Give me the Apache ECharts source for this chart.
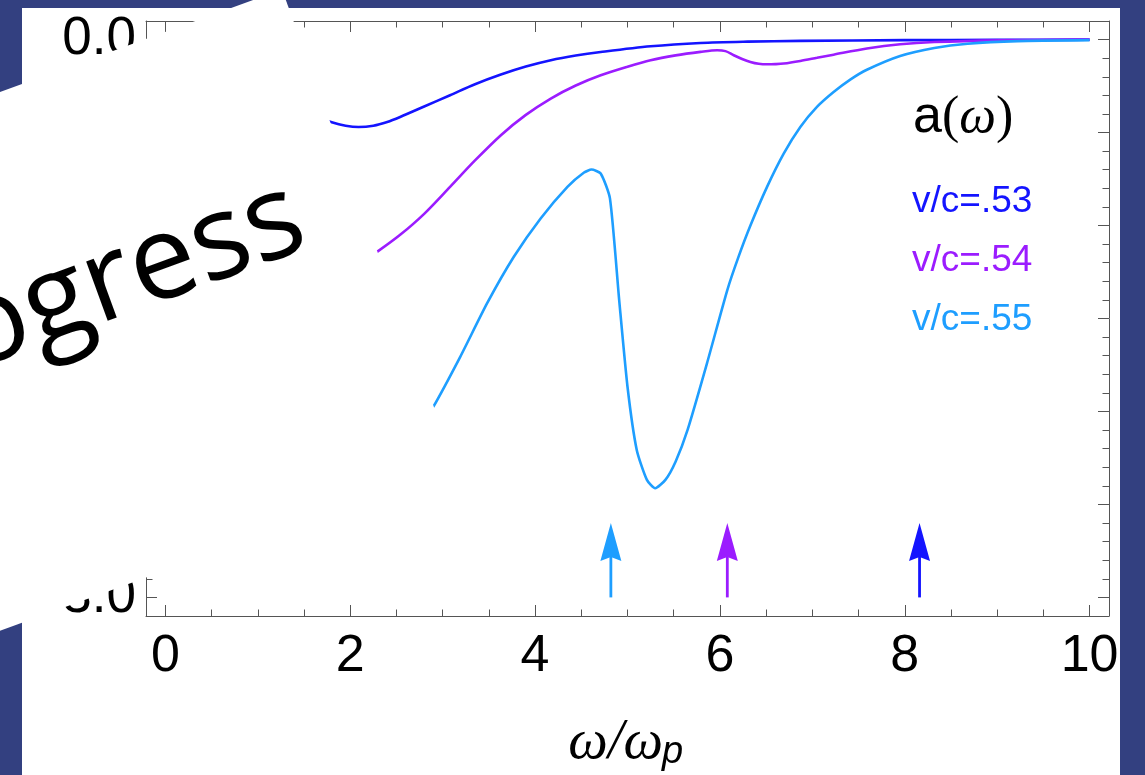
<!DOCTYPE html>
<html>
<head>
<meta charset="utf-8">
<script src="https://cdn.jsdelivr.net/npm/echarts@6/dist/echarts.min.js"></script>
<style>
html,body{margin:0;padding:0;background:#334080;overflow:hidden;}
#panel{position:absolute;left:22px;top:8px;width:1098px;height:767px;background:#fff;}
#c{position:absolute;left:0;top:0;width:1145px;height:775px;}
</style>
</head>
<body>
<div id="panel"></div>
<div id="c"></div>
<script>
// ---- data ----
const blueX = [1.70, 1.80, 1.95, 2.09, 2.25, 2.40, 2.54, 2.80, 3.08, 3.35, 3.63, 3.90, 4.17, 4.44, 4.71, 5.25, 5.79, 6.30, 6.87, 8.00, 9.00, 10.00];
const blueY = [-0.425, -0.445, -0.463, -0.470, -0.463, -0.443, -0.416, -0.360, -0.299, -0.240, -0.188, -0.145, -0.111, -0.086, -0.067, -0.036, -0.018, -0.011, -0.007, -0.003, -0.001, 0.000];

const purpleX = [2.20, 2.29, 2.54, 2.80, 3.08, 3.35, 3.63, 3.90, 4.17, 4.44, 4.71, 5.00, 5.25, 5.52, 5.79, 5.97, 6.06, 6.15, 6.24, 6.33, 6.42, 6.51, 6.60, 6.69, 6.87, 7.05, 7.23, 7.59, 7.95, 8.32, 9.04, 10.00];
const purpleY = [-1.170, -1.142, -1.050, -0.937, -0.792, -0.650, -0.514, -0.405, -0.317, -0.247, -0.192, -0.146, -0.111, -0.085, -0.066, -0.057, -0.062, -0.084, -0.104, -0.120, -0.130, -0.133, -0.132, -0.129, -0.115, -0.098, -0.081, -0.048, -0.025, -0.013, -0.004, 0.000];

const cyanX = [2.85, 2.90, 3.19, 3.48, 3.77, 4.06, 4.35, 4.53, 4.61, 4.71, 4.81, 4.91, 5.00, 5.10, 5.21, 5.30, 5.41, 5.52, 5.65, 5.86, 6.08, 6.20, 6.33, 6.51, 6.69, 6.87, 7.05, 7.23, 7.41, 7.59, 7.95, 8.32, 8.68, 9.22, 10.00];
const cyanY = [-2.000, -1.974, -1.706, -1.419, -1.168, -0.962, -0.792, -0.715, -0.699, -0.720, -0.854, -1.401, -1.867, -2.207, -2.368, -2.413, -2.368, -2.270, -2.099, -1.741, -1.347, -1.170, -1.000, -0.792, -0.613, -0.470, -0.362, -0.282, -0.215, -0.162, -0.088, -0.045, -0.022, -0.008, -0.003];

const seriesNames = ['v/c=.53', 'v/c=.54', 'v/c=.55'];
const seriesColors = ['#1414ff', '#9b1cff', '#1e9eff'];

// arrows: x positions (order: v/c=.55, .54, .53)
const arrowX = [4.82, 6.08, 8.16];
const arrowColorIdx = [2, 1, 0];
const arrowFromY = [-3.0, -3.0, -3.0];
const arrowToY = [-2.6, -2.6, -2.6];

// ticks and labels
const xMajorTicks = [0, 2, 4, 6, 8, 10];
const xMinorTicks = [0, 0.5, 1, 1.5, 2, 2.5, 3, 3.5, 4, 4.5, 5, 5.5, 6, 6.5, 7, 7.5, 8, 8.5, 9, 9.5, 10];
const yMajorTicks = [-3.0, -2.5, -2.0, -1.5, -1.0, -0.5, 0.0];
const yMinorTicks = [-3.0, -2.9, -2.8, -2.7, -2.6, -2.5, -2.4, -2.3, -2.2, -2.1, -2.0, -1.9, -1.8, -1.7, -1.6, -1.5, -1.4, -1.3, -1.2, -1.1, -1.0, -0.9, -0.8, -0.7, -0.6, -0.5, -0.4, -0.3, -0.2, -0.1, 0.0];

const xRange = [-0.21, 10.21];
const yRange = [-3.1, 0.1];

// ---- chart ----
const frameColor = '#555';
function zip(a, b) { return a.map((v, i) => [v, b[i]]); }

function mkX(pos, ticks, len, showLine, showLabel) {
  return {
    type: 'value', min: xRange[0], max: xRange[1], position: pos,
    axisLine: { show: showLine, onZero: false, lineStyle: { color: frameColor, width: 1 } },
    axisTick: { show: true, inside: true, length: len, customValues: ticks, lineStyle: { color: frameColor, width: 1 } },
    axisLabel: showLabel ? { show: true, customValues: xMajorTicks, fontSize: 52, color: '#000', fontFamily: 'Liberation Sans', margin: 15 } : { show: false },
    splitLine: { show: false }
  };
}
function mkY(pos, ticks, len, showLine, showLabel) {
  return {
    type: 'value', min: yRange[0], max: yRange[1], position: pos,
    axisLine: { show: showLine, onZero: false, lineStyle: { color: frameColor, width: 1 } },
    axisTick: { show: true, inside: true, length: len, customValues: ticks, lineStyle: { color: frameColor, width: 1 } },
    axisLabel: showLabel ? { show: true, customValues: yMajorTicks, fontSize: 53, color: '#000', fontFamily: 'Liberation Sans', margin: 10, formatter: v => v.toFixed(1) } : { show: false },
    splitLine: { show: false }
  };
}

const chart = echarts.init(document.getElementById('c'), null, { renderer: 'canvas' });

const rot = 20 * Math.PI / 180;

chart.setOption({
  animation: false,
  backgroundColor: 'transparent',
  grid: { left: 146, right: 36, top: 21, bottom: 159 },
  xAxis: [
    mkX('bottom', xMajorTicks, 11, true, true),
    mkX('bottom', xMinorTicks, 6.5, false, false),
    mkX('top', xMajorTicks, 11, true, false),
    mkX('top', xMinorTicks, 6.5, false, false)
  ],
  yAxis: [
    mkY('left', yMajorTicks, 11, true, true),
    mkY('left', yMinorTicks, 6.5, false, false),
    mkY('right', yMajorTicks, 11, true, false),
    mkY('right', yMinorTicks, 6.5, false, false)
  ],
  series: [
    { name: seriesNames[0], type: 'line', data: zip(blueX, blueY), symbol: 'none', smooth: 0.3, lineStyle: { color: seriesColors[0], width: 2.6 }, z: 3 },
    { name: seriesNames[1], type: 'line', data: zip(purpleX, purpleY), symbol: 'none', smooth: 0.3, lineStyle: { color: seriesColors[1], width: 2.6 }, z: 3 },
    { name: seriesNames[2], type: 'line', data: zip(cyanX, cyanY), symbol: 'none', smooth: 0.2, lineStyle: { color: seriesColors[2], width: 2.6 }, z: 4 },
    {
      type: 'custom',
      data: arrowX.map((x, i) => [x, arrowFromY[i], arrowToY[i], arrowColorIdx[i]]),
      encode: { x: 0, y: [1, 2] },
      renderItem: function (params, api) {
        const x = api.value(0);
        const p0 = api.coord([x, api.value(1)]);
        const p1 = api.coord([x, api.value(2)]);
        const color = seriesColors[api.value(3)];
        const headL = 38, headW = 21, notch = 4;
        return {
          type: 'group',
          children: [
            { type: 'line', shape: { x1: p0[0], y1: p0[1], x2: p1[0], y2: p1[1] + headL - notch - 1 }, style: { stroke: color, lineWidth: 2.8 } },
            { type: 'polygon', shape: { points: [[p1[0], p1[1]], [p1[0] + headW / 2, p1[1] + headL], [p1[0], p1[1] + headL - notch], [p1[0] - headW / 2, p1[1] + headL]] }, style: { fill: color } }
          ]
        };
      },
      z: 5
    }
  ],
  graphic: [
    // in-plot annotation a(ω) and labels
    { type: 'text', left: 913, top: 92, z: 10, style: { text: '{a|a}{p|(}{w|ω}{p|)}', rich: {
        a: { fontSize: 52, fontFamily: 'Liberation Sans', fill: '#000' },
        p: { fontSize: 52, fontFamily: 'Liberation Serif', fill: '#000' },
        w: { fontSize: 52, fontFamily: 'Liberation Serif', fontStyle: 'italic', fill: '#000' } } } },
    { type: 'text', x: 912, y: 202, z: 10, style: { text: seriesNames[0], fontSize: 37, fontFamily: 'Liberation Sans', fill: seriesColors[0], verticalAlign: 'middle' } },
    { type: 'text', x: 912, y: 261, z: 10, style: { text: seriesNames[1], fontSize: 37, fontFamily: 'Liberation Sans', fill: seriesColors[1], verticalAlign: 'middle' } },
    { type: 'text', x: 912, y: 320, z: 10, style: { text: seriesNames[2], fontSize: 37, fontFamily: 'Liberation Sans', fill: seriesColors[2], verticalAlign: 'middle' } },
    // x-axis title ω/ω_p
    { type: 'text', x: 663, y: 743, z: 10, style: { text: 'ω/ω', fontSize: 56, fontFamily: 'Liberation Serif', fontStyle: 'italic', fill: '#000', align: 'right', verticalAlign: 'middle' } },
    { type: 'text', x: 662, y: 752, z: 10, style: { text: 'p', fontSize: 38, fontFamily: 'Liberation Sans', fontStyle: 'italic', fill: '#000', align: 'left', verticalAlign: 'middle' } },
    // rotated white sticker
    { type: 'polygon', z: 100, shape: { points: [[282, -10.5], [455, 465], [-300, 740], [-300, 201]] }, style: { fill: '#fff' } },
    { type: 'text', x: 300, y: 215, rotation: rot, z: 101, style: { text: 'ogress', fontSize: 118, fontFamily: 'Open Sans', fill: '#000', align: 'right', verticalAlign: 'middle' } }
  ]
});
</script>
</body>
</html>
